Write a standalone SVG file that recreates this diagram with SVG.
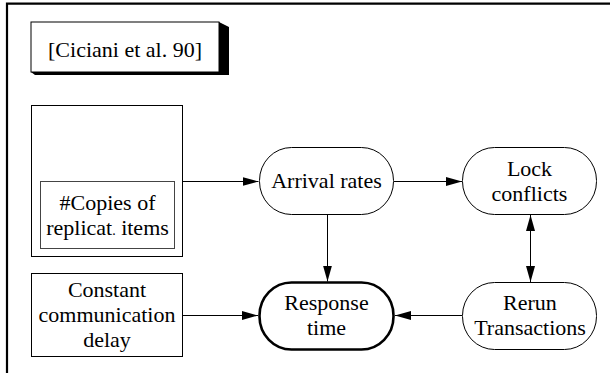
<svg xmlns="http://www.w3.org/2000/svg" width="610" height="373" viewBox="0 0 610 373">
<style>
.t{font-family:'Liberation Serif','DejaVu Serif',serif;font-size:22px;fill:#000;text-anchor:middle}
.box{fill:#fff;stroke:#000;stroke-width:1}
.pill{fill:#fff;stroke:#000;stroke-width:1}
.bold{fill:#fff;stroke:#000;stroke-width:2.6}
.edge{stroke:#000;stroke-width:1;fill:none}
</style>
<defs>
<marker id="ah" markerWidth="16" markerHeight="9" refX="16" refY="4.5" orient="auto" markerUnits="userSpaceOnUse">
<path d="M0,0 L16,4.5 L0,9 Z" fill="#000"/>
</marker>
<marker id="as" markerWidth="16" markerHeight="9" refX="0" refY="4.5" orient="auto" markerUnits="userSpaceOnUse">
<path d="M16,0 L0,4.5 L16,9 Z" fill="#000"/>
</marker>
</defs>
<rect x="0" y="0" width="610" height="373" fill="#fff"/>
<path d="M7,380 L7,3.7 L620,3.7" fill="none" stroke="#000" stroke-width="2.2"/>
<g id="citation">
<polygon points="219,22 229,27 229,75 35,75 31,72 219,72" fill="#000"/>
<rect class="box" x="31" y="22" width="188" height="50"/>
<text class="t" font-family="Liberation Serif, DejaVu Serif, serif" x="125" y="57">[Ciciani et al. 90]</text>
</g>
<g id="copies">
<rect class="box" x="31.5" y="105.5" width="151" height="151"/>
<rect x="40.5" y="181.5" width="134" height="67" fill="#fff" stroke="#444" stroke-width="1"/>
<text class="t" x="107.5" y="209.5">#Copies of</text>
<text class="t" x="107.5" y="234.5">replicat<tspan font-size="14">.</tspan> items</text>
</g>
<g id="constant">
<rect class="box" x="31.5" y="273.5" width="151" height="83"/>
<text class="t" x="107" y="297">Constant</text>
<text class="t" x="107" y="322">communication</text>
<text class="t" x="107" y="347">delay</text>
</g>
<g id="arrival">
<rect class="pill" x="259.5" y="147.5" width="134" height="67" rx="32" ry="33"/>
<text class="t" x="326.5" y="188">Arrival rates</text>
</g>
<g id="lock">
<rect class="pill" x="462.5" y="147.5" width="134" height="67" rx="32" ry="33"/>
<text class="t" x="529.5" y="176">Lock</text>
<text class="t" x="529.5" y="201">conflicts</text>
</g>
<g id="rerun">
<rect class="pill" x="462.5" y="282.5" width="134" height="67" rx="32" ry="33"/>
<text class="t" x="530" y="310">Rerun</text>
<text class="t" x="530" y="335">Transactions</text>
</g>
<g id="response">
<rect class="bold" x="259.5" y="282.5" width="134" height="67" rx="32" ry="33"/>
<text class="t" x="326.5" y="310">Response</text>
<text class="t" x="326.5" y="335">time</text>
</g>
<g id="connectors">
<line class="edge" x1="183" y1="181.5" x2="258.5" y2="181.5" marker-end="url(#ah)"/>
<line class="edge" x1="394" y1="181.5" x2="462" y2="181.5" marker-end="url(#ah)"/>
<line class="edge" x1="327.5" y1="215" x2="327.5" y2="281.5" marker-end="url(#ah)"/>
<line class="edge" x1="530.5" y1="215" x2="530.5" y2="282" marker-start="url(#as)" marker-end="url(#ah)"/>
<line class="edge" x1="183" y1="315.5" x2="258" y2="315.5" marker-end="url(#ah)"/>
<line class="edge" x1="462" y1="315.5" x2="395" y2="315.5" marker-end="url(#ah)"/>
</g>
</svg>
